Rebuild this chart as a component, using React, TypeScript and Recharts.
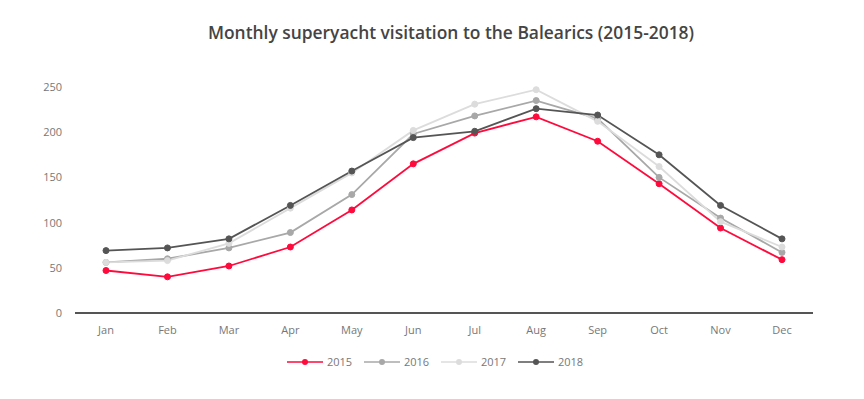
import React from 'react';
import { LineChart, Line, XAxis, YAxis } from 'recharts';

const months = ['Jan', 'Feb', 'Mar', 'Apr', 'May', 'Jun', 'Jul', 'Aug', 'Sep', 'Oct', 'Nov', 'Dec'];
const v2015 = [47, 40, 52, 73, 114, 165, 199, 217, 190, 143, 94, 59];
const v2016 = [56, 60, 72, 89, 131, 198, 218, 235, 215, 150, 105, 67];
const v2017 = [56, 58, 77, 116, 155, 202, 231, 247, 212, 162, 101, 73];
const v2018 = [69, 72, 82, 119, 157, 194, 201, 226, 219, 175, 119, 82];
const yTicks = [0, 50, 100, 150, 200, 250];

const series = [
  { key: '2015', color: '#ff0a3c' },
  { key: '2016', color: '#a8a8a8' },
  { key: '2017', color: '#dcdcdc' },
  { key: '2018', color: '#555555' },
];

const data = months.map((m, i) => ({
  month: m,
  '2015': v2015[i],
  '2016': v2016[i],
  '2017': v2017[i],
  '2018': v2018[i],
}));

const FONT = '"Open Sans", sans-serif';

// legend drawn outside the chart so it doesn't eat plot space
const LegendRow = () => (
  <div
    style={{
      position: 'absolute',
      top: 354,
      left: 9,
      width: 864,
      display: 'flex',
      justifyContent: 'center',
      fontFamily: FONT,
      fontSize: 11,
      color: '#777',
    }}
  >
    {series.map((s) => (
      <div key={s.key} style={{ display: 'flex', alignItems: 'center', width: 77 }}>
        <svg width={36} height={10} style={{ marginRight: 4 }}>
          <line x1={0} y1={5} x2={36} y2={5} stroke={s.color} strokeWidth={1.5} />
          <circle cx={18} cy={5} r={3} fill={s.color} />
        </svg>
        <span>{s.key}</span>
      </div>
    ))}
  </div>
);

const App: React.FC = () => {
  return (
    <div style={{ position: 'absolute', left: 0, top: 0, width: 864, height: 399, background: '#fff' }}>
      <div
        style={{
          position: 'absolute',
          top: 20,
          left: 0,
          width: 902,
          textAlign: 'center',
          fontFamily: FONT,
          fontWeight: 600,
          fontSize: 17.4,
          color: '#444',
        }}
      >
        Monthly superyacht visitation to the Balearics (2015-2018)
      </div>
      <LineChart width={864} height={399} data={data} margin={{ top: 87, right: 51, bottom: 56, left: 20 }}>
        <XAxis
          dataKey="month"
          padding={{ left: 31, right: 31 }}
          tickLine={false}
          axisLine={{ stroke: '#555', strokeWidth: 2 }}
          tick={{ fill: '#777', fontSize: 11, fontFamily: FONT }}
          tickMargin={7}
          interval={0}
        />
        <YAxis
          width={55}
          domain={[0, 250]}
          ticks={yTicks}
          axisLine={false}
          tickLine={false}
          tickSize={0}
          tickMargin={13}
          tick={{ fill: '#777', fontSize: 11, fontFamily: FONT }}
        />
        {series.map((s) => (
          <Line
            key={s.key}
            dataKey={s.key}
            stroke={s.color}
            strokeWidth={1.8}
            dot={{ r: 3, fill: s.color, stroke: s.color, strokeWidth: 1 }}
            activeDot={false}
            isAnimationActive={false}
          />
        ))}
      </LineChart>
      <LegendRow />
    </div>
  );
};

export default App;
